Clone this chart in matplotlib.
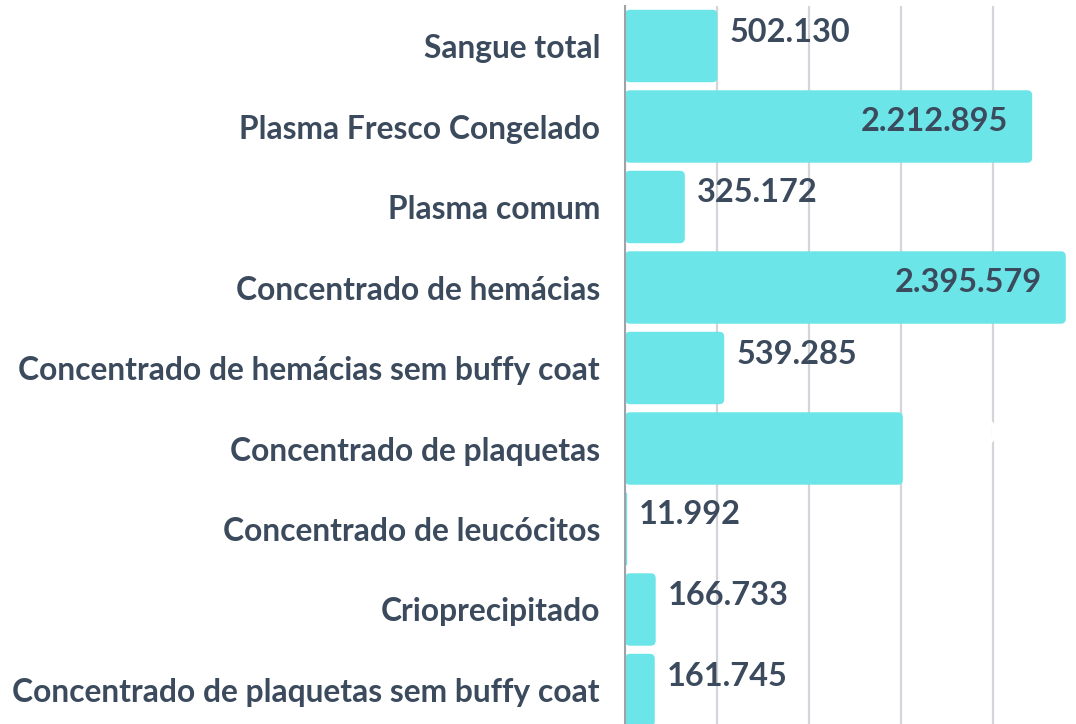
import matplotlib
matplotlib.use("Agg")
import matplotlib.pyplot as plt
from matplotlib.patches import FancyBboxPatch
import matplotlib.transforms as mtransforms

categories = [
    "Sangue total",
    "Plasma Fresco Congelado",
    "Plasma comum",
    "Concentrado de hemácias",
    "Concentrado de hemácias sem buffy coat",
    "Concentrado de plaquetas",
    "Concentrado de leucócitos",
    "Crioprecipitado",
    "Concentrado de plaquetas sem buffy coat",
]
values = [502130, 2212895, 325172, 2395579, 539285, 1510000, 11992, 166733, 161745]
labels = ["502.130", "2.212.895", "325.172", "2.395.579", "539.285",
          "1.510.000", "11.992", "166.733", "161.745"]
inside = [False, True, False, True, False, False, False, False, False]
hidden = [False, False, False, False, False, True, False, False, False]
xticks = [0, 500000, 1000000, 1500000, 2000000, 2500000]

plt.rcParams['font.family'] = ['Lato', 'DejaVu Sans']
W, H = 1076, 724
fig = plt.figure(figsize=(W / 100, H / 100), dpi=100)
left = 625 / W
width = 460 / W
top_px, bot_px = 5.75, 730.25
ax = fig.add_axes([left, (H - bot_px) / H, width, (bot_px - top_px) / H])

bar_color = "#6ce5e8"
text_color = "#3b4a5c"
weight = 'bold'

y = list(range(len(categories)))
bars = ax.barh(y, values, height=0.9, color=bar_color)
ax.set_xlim(0, 2500000)
ax.set_ylim(len(categories) - 0.5, -0.5)

px_per_x = 460 / 2500000
px_per_y = (bot_px - top_px) / len(categories)
r_px = 5
rs = r_px / px_per_x
asp = (r_px / px_per_y) / rs
for b in bars:
    b.set_visible(False)
    x0, y0 = b.get_x(), b.get_y()
    w, h = b.get_width(), b.get_height()
    p = FancyBboxPatch((x0, y0), w, h,
                       boxstyle=f"round,pad=0,rounding_size={min(rs, w/2)}",
                       mutation_aspect=asp, facecolor=bar_color,
                       edgecolor="none", zorder=2)
    ax.add_patch(p)

ax.set_xticks(xticks)
ax.set_xticklabels([])
ax.tick_params(axis='x', length=0)
ax.grid(axis='x', color="#d3d5da", linewidth=1.6, zorder=0)
ax.set_axisbelow(True)
for s in ["top", "right", "bottom"]:
    ax.spines[s].set_visible(False)
ax.spines["left"].set_color("#9ea3aa")
ax.spines["left"].set_linewidth(1.5)
ax.spines["left"].set_zorder(3)

ax.set_yticks(y)
ax.set_yticklabels(categories, fontsize=22.9, fontweight=weight, color=text_color)
ax.tick_params(axis='y', length=0, pad=18)

for i, (v, lab) in enumerate(zip(values, labels)):
    if inside[i]:
        tr = mtransforms.offset_copy(ax.transData, fig=fig, x=-24, y=5, units='dots')
        ax.text(v, i, lab, transform=tr, ha='right', va='center',
                fontsize=23.4, fontweight=weight, color=text_color, zorder=4)
    else:
        col = "white" if hidden[i] else text_color
        tr = mtransforms.offset_copy(ax.transData, fig=fig, x=12, y=14, units='dots')
        ax.text(v, i, lab, transform=tr, ha='left', va='center',
                fontsize=23.4, fontweight=weight, color=col, zorder=4)

fig.savefig("out.png", dpi=100)
